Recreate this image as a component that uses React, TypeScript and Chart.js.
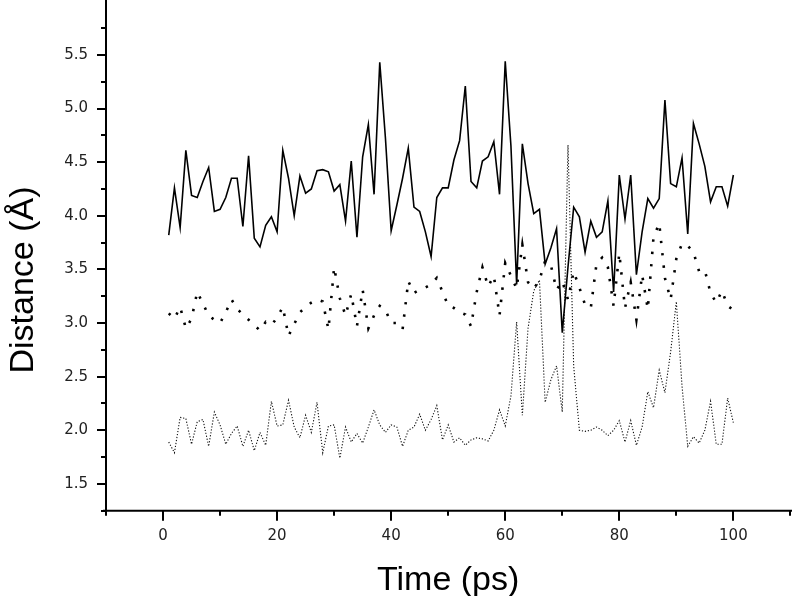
import React, { useEffect, useRef } from "react";
import { Chart, registerables } from "chart.js";

Chart.register(...registerables);

const TIME_PS = [
  1, 2, 3, 4, 5, 6, 7, 8, 9, 10, 11, 12, 13, 14, 15, 16, 17, 18, 19, 20,
  21, 22, 23, 24, 25, 26, 27, 28, 29, 30, 31, 32, 33, 34, 35, 36, 37, 38, 39, 40,
  41, 42, 43, 44, 45, 46, 47, 48, 49, 50, 51, 52, 53, 54, 55, 56, 57, 58, 59, 60,
  61, 62, 63, 64, 65, 66, 67, 68, 69, 70, 71, 72, 73, 74, 75, 76, 77, 78, 79, 80,
  81, 82, 83, 84, 85, 86, 87, 88, 89, 90, 91, 92, 93, 94, 95, 96, 97, 98, 99, 100,
];

const SOLID_DISTANCE = [
  3.82, 4.26, 3.89, 4.61, 4.19, 4.17, 4.32, 4.45, 4.04, 4.06,
  4.17, 4.35, 4.35, 3.90, 4.56, 3.79, 3.71, 3.91, 3.99, 3.85,
  4.61, 4.35, 4.00, 4.37, 4.21, 4.25, 4.42, 4.43, 4.41, 4.23,
  4.29, 3.95, 4.51, 3.80, 4.55, 4.85, 4.20, 5.43, 4.72, 3.86,
  4.10, 4.35, 4.63, 4.08, 4.04, 3.85, 3.62, 4.17, 4.26, 4.26,
  4.52, 4.70, 5.21, 4.32, 4.26, 4.51, 4.55, 4.69, 4.20, 5.44,
  4.65, 3.36, 4.67, 4.30, 4.02, 4.06, 3.55, 3.70, 3.88, 2.91,
  3.52, 4.08, 3.99, 3.66, 3.95, 3.80, 3.85, 4.14, 3.29, 4.38,
  3.97, 4.38, 3.45, 3.85, 4.16, 4.07, 4.16, 5.08, 4.30, 4.27,
  4.54, 3.83, 4.86, 4.67, 4.46, 4.13, 4.27, 4.27, 4.09, 4.38,
];

const DOTS_DISTANCE = [
  3.09, 3.04, 3.15, 2.95, 3.04, 3.29, 3.18, 3.07, 3.03, 3.00,
  3.10, 3.22, 3.13, 3.08, 3.03, 2.98, 2.93, 3.01, 2.98, 3.05,
  3.15, 2.88, 2.99, 3.10, 3.15, 3.19, 3.22, 3.20, 2.94, 3.52,
  3.23, 3.07, 3.27, 2.97, 3.31, 2.95, 3.07, 3.16, 3.12, 3.00,
  3.00, 2.94, 3.39, 3.28, 3.31, 3.33, 3.36, 3.42, 3.29, 3.16,
  3.14, 3.10, 3.08, 2.97, 3.29, 3.52, 3.34, 3.44, 3.07, 3.56,
  3.44, 3.32, 3.73, 3.38, 3.32, 3.40, 3.58, 3.54, 3.31, 3.39,
  3.22, 3.48, 3.33, 3.17, 3.14, 3.55, 3.61, 3.52, 3.16, 3.65,
  3.14, 3.38, 3.03, 3.45, 3.13, 3.80, 3.93, 3.42, 3.22, 3.60,
  3.74, 3.72, 3.66, 3.48, 3.49, 3.28, 3.19, 3.30, 3.16, 3.12,
];

const FINE_DISTANCE = [
  1.89, 1.79, 2.12, 2.11, 1.87, 2.08, 2.10, 1.85, 2.17, 2.05,
  1.87, 1.97, 2.04, 1.85, 2.00, 1.81, 1.98, 1.86, 2.27, 2.04,
  2.05, 2.28, 2.03, 1.93, 2.14, 1.98, 2.26, 1.79, 2.04, 2.05,
  1.74, 2.03, 1.89, 1.97, 1.88, 2.03, 2.19, 2.05, 1.98, 2.05,
  2.03, 1.85, 2.00, 2.03, 2.15, 2.00, 2.10, 2.23, 1.91, 2.05,
  1.89, 1.93, 1.86, 1.91, 1.93, 1.92, 1.90, 2.00, 2.19, 2.04,
  2.32, 3.01, 2.14, 2.95, 3.30, 3.40, 2.26, 2.47, 2.60, 2.17,
  4.66, 2.60, 2.00, 1.99, 2.00, 2.03, 2.00, 1.95, 2.00, 2.09,
  1.89, 2.09, 1.86, 2.03, 2.36, 2.21, 2.56, 2.35, 2.73, 3.20,
  2.41, 1.85, 1.94, 1.88, 2.00, 2.27, 1.87, 1.87, 2.30, 2.07,
];

const X_TICKS = [0, 20, 40, 60, 80, 100];
const X_TICK_LABELS = ["0", "20", "40", "60", "80", "100"];
const X_MINOR_TICKS = [-10, 10, 30, 50, 70, 90, 110];
const Y_TICKS = [1.5, 2.0, 2.5, 3.0, 3.5, 4.0, 4.5, 5.0, 5.5];
const Y_TICK_LABELS = ["1.5", "2.0", "2.5", "3.0", "3.5", "4.0", "4.5", "5.0", "5.5"];
const Y_MINOR_TICKS = [1.25, 1.75, 2.25, 2.75, 3.25, 3.75, 4.25, 4.75, 5.25, 5.75];
const X_TITLE = "Time (ps)";
const Y_TITLE = "Distance (Å)";

const toPoints = (ys: number[]) => TIME_PS.map((t, i) => ({ x: t, y: ys[i] }));

const axesPlugin = {
  id: "originAxes",
  afterDraw(chart: any) {
    const { ctx, chartArea } = chart;
    const xs = chart.scales.x;
    const ys = chart.scales.y;
    const left = chartArea.left;
    const bottom = chartArea.bottom;
    ctx.save();
    ctx.strokeStyle = "#000";
    ctx.lineWidth = 2;
    ctx.lineCap = "butt";
    ctx.setLineDash([]);
    ctx.beginPath();
    ctx.moveTo(left, 0);
    ctx.lineTo(left, bottom + 1);
    ctx.stroke();
    ctx.beginPath();
    ctx.moveTo(left - 3, bottom);
    ctx.lineTo(chart.width, bottom);
    ctx.stroke();
    ctx.beginPath();
    Y_TICKS.forEach((v) => {
      const p = Math.round(ys.getPixelForValue(v));
      ctx.moveTo(left - 9, p);
      ctx.lineTo(left, p);
    });
    Y_MINOR_TICKS.forEach((v) => {
      const p = Math.round(ys.getPixelForValue(v));
      ctx.moveTo(left - 5, p);
      ctx.lineTo(left, p);
    });
    X_TICKS.forEach((v) => {
      const p = Math.round(xs.getPixelForValue(v));
      ctx.moveTo(p, bottom);
      ctx.lineTo(p, bottom + 10);
    });
    X_MINOR_TICKS.forEach((v) => {
      const p = Math.min(Math.round(xs.getPixelForValue(v)), chart.width - 1);
      ctx.moveTo(p, bottom);
      ctx.lineTo(p, bottom + 5);
    });
    ctx.stroke();
    ctx.fillStyle = "#000";
    ctx.font = '34px "Liberation Sans", Arial, sans-serif';
    ctx.textAlign = "center";
    ctx.textBaseline = "alphabetic";
    ctx.fillText(X_TITLE, (chartArea.left + chartArea.right) / 2, 590);
    ctx.translate(33, 280);
    ctx.rotate(-Math.PI / 2);
    ctx.fillText(Y_TITLE, 0, 0);
    ctx.restore();
  },
};

export default function App() {
  const canvasRef = useRef<HTMLCanvasElement | null>(null);

  useEffect(() => {
    const canvas = canvasRef.current;
    if (!canvas) return;
    const tickFont = { family: '"DejaVu Sans", Verdana, sans-serif', size: 15 };
    const chart = new Chart(canvas, {
      type: "line",
      data: {
        datasets: [
          {
            label: "solid",
            data: toPoints(SOLID_DISTANCE),
            borderColor: "#000",
            borderWidth: 1.6,
            pointRadius: 0,
            fill: false,
            tension: 0,
          },
          {
            label: "dots",
            data: toPoints(DOTS_DISTANCE),
            borderColor: "#000",
            borderWidth: 2.6,
            borderDash: [2.4, 10],
            borderCapStyle: "butt",
            pointRadius: 0,
            fill: false,
            tension: 0,
          },
          {
            label: "fine",
            data: toPoints(FINE_DISTANCE),
            borderColor: "#111",
            borderWidth: 1.1,
            borderDash: [1.2, 1.8],
            pointRadius: 0,
            fill: false,
            tension: 0,
          },
        ],
      },
      options: {
        animation: false,
        responsive: false,
        maintainAspectRatio: false,
        layout: { padding: { left: 0, right: 1.6, top: 0, bottom: 0 } },
        plugins: { legend: { display: false }, tooltip: { enabled: false } },
        scales: {
          x: {
            type: "linear",
            min: -10,
            max: 110,
            grid: { display: false, drawTicks: false },
            border: { display: false },
            afterBuildTicks: (s: any) => {
              s.ticks = X_TICKS.map((v) => ({ value: v }));
            },
            afterFit: (s: any) => {
              s.height = 596 - 510.7;
            },
            ticks: {
              padding: 16,
              color: "#222",
              font: tickFont,
              autoSkip: false,
              maxRotation: 0,
              callback: (_v: any, i: number) => X_TICK_LABELS[i],
            },
          },
          y: {
            type: "linear",
            min: 1.25,
            max: 5.76,
            grid: { display: false, drawTicks: false },
            border: { display: false },
            afterBuildTicks: (s: any) => {
              s.ticks = Y_TICKS.map((v) => ({ value: v }));
            },
            afterFit: (s: any) => {
              s.width = 106;
            },
            ticks: {
              padding: 18,
              color: "#222",
              font: tickFont,
              autoSkip: false,
              callback: (_v: any, i: number) => Y_TICK_LABELS[i],
            },
          },
        },
      } as any,
      plugins: [axesPlugin],
    });
    return () => chart.destroy();
  }, []);

  return (
    <div style={{ position: "fixed", left: 0, top: 0, width: 792, height: 596, background: "#fff" }}>
      <canvas ref={canvasRef} width={792} height={596} style={{ width: 792, height: 596, display: "block" }} />
    </div>
  );
}
